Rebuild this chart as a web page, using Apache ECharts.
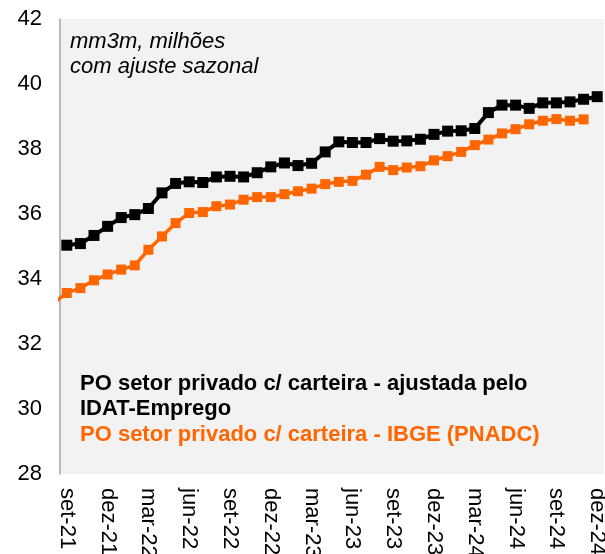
<!DOCTYPE html>
<html>
<head>
<meta charset="utf-8">
<script src="https://cdn.jsdelivr.net/npm/echarts@6/dist/echarts.min.js"></script>
<style>
  html, body { margin: 0; padding: 0; background: #fff; }
  #chart { width: 605px; height: 554px; }
</style>
</head>
<body>
<div id="chart"></div>
<script>
// meses (ago-21 só serve para o trecho inicial da série laranja, fica fora da área)
const months = ['ago-21',
  'set-21', 'out-21', 'nov-21', 'dez-21',
  'jan-22', 'fev-22', 'mar-22', 'abr-22', 'mai-22', 'jun-22', 'jul-22', 'ago-22', 'set-22', 'out-22', 'nov-22', 'dez-22',
  'jan-23', 'fev-23', 'mar-23', 'abr-23', 'mai-23', 'jun-23', 'jul-23', 'ago-23', 'set-23', 'out-23', 'nov-23', 'dez-23',
  'jan-24', 'fev-24', 'mar-24', 'abr-24', 'mai-24', 'jun-24', 'jul-24', 'ago-24', 'set-24', 'out-24', 'nov-24', 'dez-24'];

// PO setor privado c/ carteira - ajustada pelo IDAT-Emprego
const idat = [null,
  35.04, 35.09, 35.34, 35.62,
  35.89, 35.98, 36.17, 36.65, 36.94, 36.99, 36.97, 37.14, 37.16, 37.14, 37.27, 37.45,
  37.57, 37.49, 37.56, 37.91, 38.22, 38.20, 38.20, 38.32, 38.24, 38.25, 38.30, 38.45,
  38.55, 38.56, 38.63, 39.12, 39.35, 39.35, 39.25, 39.42, 39.42, 39.45, 39.53, 39.61];

// PO setor privado c/ carteira - IBGE (PNADC)
const pnadc = [33.25,
  33.57, 33.72, 33.96, 34.14,
  34.29, 34.42, 34.90, 35.31, 35.72, 36.03, 36.06, 36.24, 36.29, 36.44, 36.52, 36.52,
  36.61, 36.70, 36.78, 36.92, 36.99, 37.02, 37.21, 37.45, 37.35, 37.43, 37.47, 37.65,
  37.78, 37.91, 38.12, 38.29, 38.48, 38.61, 38.76, 38.87, 38.92, 38.87, 38.91, null];

// rótulos trimestrais do eixo x
const tickLabels = ['set-21', 'dez-21', 'mar-22', 'jun-22', 'set-22', 'dez-22', 'mar-23',
  'jun-23', 'set-23', 'dez-23', 'mar-24', 'jun-24', 'set-24', 'dez-24'];

const yTicks = [28, 30, 32, 34, 36, 38, 40, 42];

const font = 'Liberation Sans, Arial, sans-serif';

let chartDom = document.getElementById('chart');
let myChart = echarts.init(chartDom);
let option;

function toPairs(arr) {
  return arr.map((v, i) => [i, v]);
}

function note(text, y, weight, color) {
  return {
    type: 'text', x: weight === 'bold' ? 80 : 70, y: y,
    style: { text: text, font: weight + ' 22px ' + font, fill: color, verticalAlign: 'middle' }
  };
}

option = {
  animation: false,
  textStyle: { fontFamily: font },
  grid: {
    left: 60, right: 1, top: 19, bottom: 80,
    outerBoundsMode: 'none',
    containLabel: false,
    show: true, backgroundColor: '#f2f2f2', borderWidth: 0
  },
  xAxis: {
    type: 'value',
    min: 0.5,
    max: months.length - 0.5,
    splitLine: { show: false },
    axisLine: { show: false },
    axisTick: { show: false },
    axisLabel: {
      customValues: tickLabels.map(t => months.indexOf(t)),
      formatter: v => months[Math.round(v)],
      rotate: -90,
      margin: 14,
      fontSize: 22,
      color: '#000',
      fontFamily: font
    }
  },
  yAxis: {
    type: 'value',
    min: yTicks[0],
    max: yTicks[yTicks.length - 1],
    interval: 2,
    splitLine: { show: false },
    axisTick: { show: false },
    axisLine: { show: true, lineStyle: { color: '#a6a6a6', width: 1.5 } },
    axisLabel: { fontSize: 22, color: '#000', margin: 18, fontFamily: font }
  },
  graphic: [
    note('mm3m, milhões', 42, 'italic', '#000'),
    note('com ajuste sazonal', 67, 'italic', '#000'),
    note('PO setor privado c/ carteira - ajustada pelo', 384, 'bold', '#000'),
    note('IDAT-Emprego', 409, 'bold', '#000'),
    note('PO setor privado c/ carteira - IBGE (PNADC)', 435, 'bold', '#ff6600')
  ],
  series: [
    {
      name: 'PNADC',
      type: 'line',
      data: toPairs(pnadc),
      symbol: 'rect',
      symbolSize: 10,
      lineStyle: { color: '#ff6600', width: 3.5 },
      itemStyle: { color: '#ff6600' },
      clip: true
    },
    {
      name: 'IDAT',
      type: 'line',
      data: toPairs(idat),
      symbol: 'rect',
      symbolSize: 11,
      lineStyle: { color: '#000', width: 4 },
      itemStyle: { color: '#000' },
      clip: true
    }
  ]
};

option && myChart.setOption(option);
</script>
</body>
</html>
